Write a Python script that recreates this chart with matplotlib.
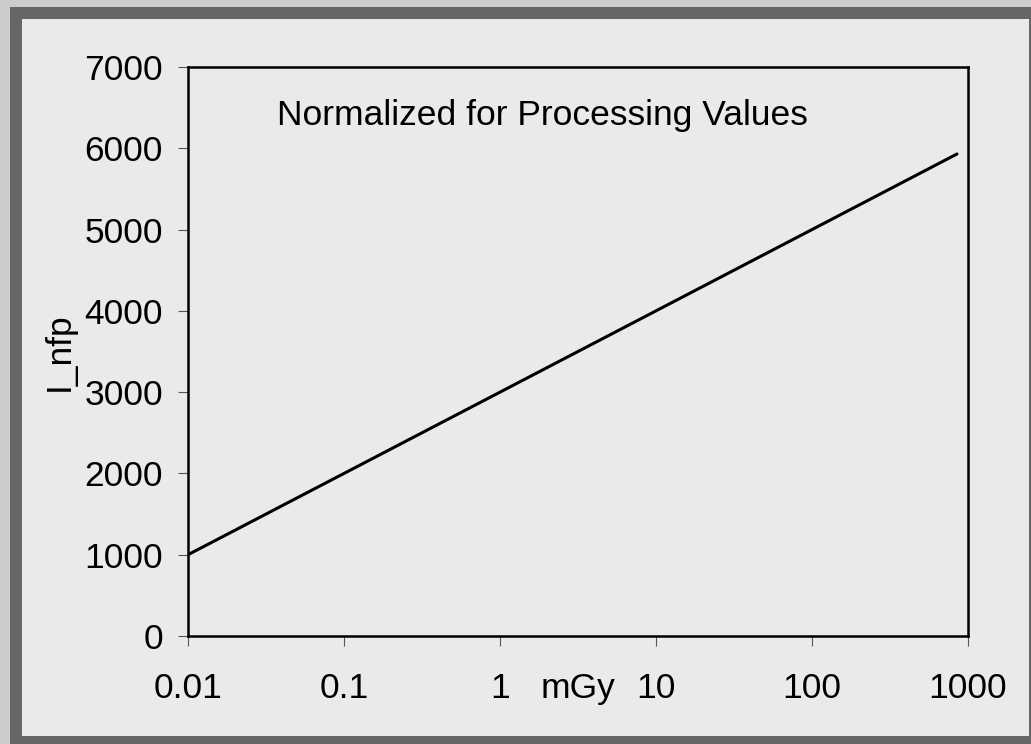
import numpy as np
import matplotlib
matplotlib.use("Agg")
import matplotlib.pyplot as plt
from matplotlib.patches import Rectangle

plt.rcParams['font.family'] = ['Liberation Sans', 'DejaVu Sans']

# dose (mGy) vs normalized value
dose = [0.01, 0.1, 1, 10, 100, 850]
i_nfp = [1000, 2000, 3000, 4000, 5000, 5930]
xticks = [0.01, 0.1, 1, 10, 100, 1000]
xticklabels = ['0.01', '0.1', '1', '10', '100', '1000']
yticks = [0, 1000, 2000, 3000, 4000, 5000, 6000, 7000]

W, H = 1031, 744
FS = 25.5
fig = plt.figure(figsize=(W / 100, H / 100), dpi=100, facecolor='#cccccc')

def px_rect(x0, y0, x1, y1, color):
    # pixel coords from the top-left corner
    fig.patches.append(Rectangle((x0 / W, 1 - y1 / H), (x1 - x0) / W, (y1 - y0) / H,
                                 transform=fig.transFigure, facecolor=color,
                                 edgecolor='none', zorder=-10))

px_rect(10, 7, W, H, '#666666')
px_rect(22, 19, 1029, 736, '#eaeaea')

ax = fig.add_axes([188 / W, 1 - 636 / H, (968 - 188) / W, (636 - 67) / H])
ax.set_facecolor('#eaeaea')
ax.plot(dose, i_nfp, color='black', lw=2.2, solid_capstyle='round')

ax.set_xscale('log')
ax.set_xlim(0.01, 1000)
ax.set_ylim(0, 7000)
ax.set_xticks(xticks)
ax.set_xticklabels(xticklabels)
ax.set_yticks(yticks)
ax.minorticks_off()
ax.tick_params(axis='x', length=7.5, width=0.8, color='#555555', labelsize=FS, pad=18.5)
ax.tick_params(axis='y', length=7, width=0.8, color='#555555', labelsize=FS, pad=11)
for s in ax.spines.values():
    s.set_linewidth(1.8)
    s.set_color('black')

ax.set_ylabel('I_nfp', fontsize=FS, labelpad=6)
ax.text(0.455, 0.914, 'Normalized for Processing Values', transform=ax.transAxes,
        ha='center', va='center', fontsize=FS)
fig.text(578 / W, 1 - 698 / H, 'mGy', fontsize=FS, ha='center', va='baseline')

fig.savefig('out.png', dpi=100, facecolor=fig.get_facecolor())
